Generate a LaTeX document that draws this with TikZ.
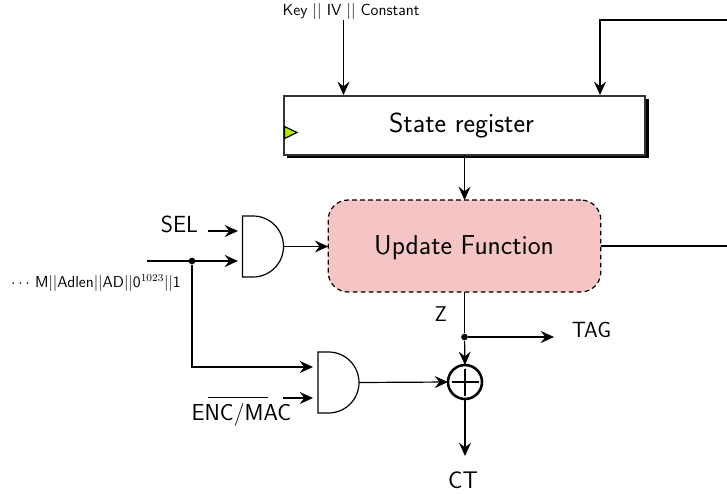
\documentclass[tikz,border=0pt]{standalone}
\usetikzlibrary{arrows.meta,calc,shapes.geometric}
\newcommand{\lblfont}[1]{\fontsize{#1}{#1}\selectfont\sffamily}
\definecolor{pink1}{HTML}{F5C4C4}
\definecolor{lime1}{HTML}{B5EA00}
\tikzset{
  every picture/.style={x=0.75pt,y=-0.75pt,line width=0.9pt,>={Stealth[length=10pt,width=9pt,inset=3.5pt]}},
  conn/.style={->,black,line width=0.9pt},
  wire/.style={black,line width=0.9pt},
  gatebox/.style={draw=none,minimum width=30.75pt,minimum height=45.75pt,inner sep=0pt,outer sep=0pt},
  gateshape/.style={draw=black,line width=0.9pt},
  dotnode/.style={circle,fill=black,inner sep=0pt,minimum size=5pt},
  txt/.style={inner sep=0pt,outer sep=0pt,text=black},
  regbox/.style={draw=black!80,fill=white,line width=1.1pt,minimum width=270.5pt,minimum height=44pt,inner sep=0pt,outer sep=0pt},
  updbox/.style={draw=black,dash pattern=on 3.5pt off 2.5pt,fill=pink1,line width=0.9pt,rounded corners=15pt,minimum width=204.5pt,minimum height=69pt,inner sep=0pt,outer sep=0pt},
  xorbox/.style={circle,draw=black,line width=1.9pt,fill=white,minimum size=25.5pt,inner sep=0pt,outer sep=0pt}
}
\begin{document}
\begin{tikzpicture}
\useasboundingbox (0,0) rectangle (727,493);
% shadow + register
\fill[black] (287,99) rectangle (648.5,158);
\node[regbox] (reg) at (464.5,125.5) {};
\node[txt,font=\lblfont{20.7}] at (461.5,126) (regtxt) {State register};
\fill[lime1,draw=black,line width=0.9pt] (284.5,126.5) -- (297,132.5) -- (284.5,138.5) -- cycle;
% update
\node[updbox] (upd) at (464.5,246) {};
\node[txt,font=\lblfont{20.5}] at (464,248) (updtxt) {Update Function};
% gates
\node[gatebox] (gA) at (263,246.5) {};
\draw[gateshape] (gA.north west) -- ($(gA.north west)+(10.5,0)$) arc[start angle=-90,end angle=90,radius=30.5] -- (gA.south west) -- cycle;
\node[gatebox] (gB) at (338.5,382.5) {};
\draw[gateshape] (gB.north west) -- ($(gB.north west)+(10.5,0)$) arc[start angle=-90,end angle=90,radius=30.5] -- (gB.south west) -- cycle;
% xor
\node[xorbox] (xor) at (465,382) {};
\draw[line width=1.9pt] (xor.center)+(-13.5,0) -- +(13.5,0) (xor.center)+(0,-13.5) -- +(0,13.5);
% coordinates
\coordinate (keyS) at (343.5,20);
\coordinate (keyE) at (343.5,95);
\coordinate (fbR) at (727,20);
\coordinate (fbC) at (600,20);
\coordinate (fbE) at (600,95);
\coordinate (updR) at (727,246);
\coordinate (selS) at (208,231);
\coordinate (selE) at (238,231);
\coordinate (inS) at (147,261);
\coordinate (inE) at (238,261);
\coordinate (enS) at (283,398);
\coordinate (enE) at (313,398);
\coordinate (cornr) at (192,367);
\coordinate (gbin) at (313,367);
\coordinate (tagE) at (554,337);
\coordinate (ctE) at (465,456);
\node[dotnode] (d1) at (192,261) {};
\node[dotnode] (d2) at (464.5,337) {};
% connectors
\draw[conn] (keyS) -- (keyE);
\draw[conn] (fbR) -- (fbC) -- (fbE);
\draw[conn] (reg.south) -- (upd.north);
\draw[wire] (upd.east |- updR) -- (updR);
\draw[conn] (selS) -- (selE);
\draw[conn] (inS) -- (inE);
\draw[conn] (d1) -- (cornr) -- (gbin);
\draw[conn] (enS) -- (enE);
\draw[conn] (gA.east) -- (upd.west |- gA.east);
\draw[conn] (gB.east) -- (xor.west);
\draw[wire] (upd.south) -- (d2);
\draw[conn] (d2) -- (tagE);
\draw[conn] (d2) -- (xor.north);
\draw[conn] (xor.south) -- (ctE);
% labels
\node[txt,font=\lblfont{12}] (keytxt) at (351,11) {Key $||$ IV $||$ Constant};
\node[txt,font=\lblfont{17.5}] (seltxt) at (179.5,224.5) {SEL};
\node[txt,font=\lblfont{11.9}] (intxt) at (96,283) {$\cdots$ M$||$Adlen$||$AD$||$0$^{1023}$$||$1};
\node[txt,font=\lblfont{16}] (ztxt) at (440.7,314) {Z};
\node[txt,font=\lblfont{16.5}] (tagtxt) at (591.5,330) {TAG};
\node[txt,font=\lblfont{18}] (cttxt) at (463,480) {CT};
\node[txt,font=\lblfont{17.3}] (enctxt) at (241.5,415) {ENC/MAC};
\coordinate (ovA) at (208,397.5);
\coordinate (ovB) at (268,397.5);
\draw[wire] (ovA) -- (ovB);
\end{tikzpicture}
\end{document}
